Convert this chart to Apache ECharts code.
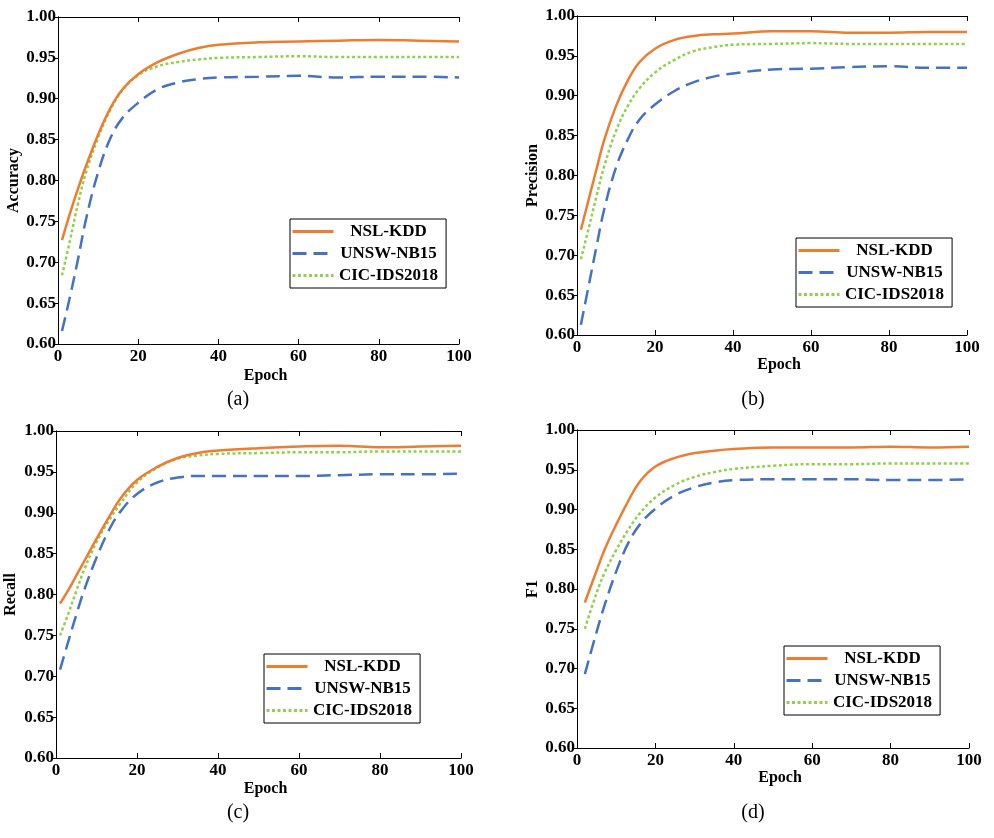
<!DOCTYPE html>
<html>
<head>
<meta charset="utf-8">
<script src="https://cdn.jsdelivr.net/npm/echarts@6/dist/echarts.min.js"></script>
<style>html,body{margin:0;padding:0;background:#fff;}#chart{width:994px;height:838px;}</style>
</head>
<body>
<div id="chart"></div>
<script>
// ---- data ----
const seriesNames = ['NSL-KDD', 'UNSW-NB15', 'CIC-IDS2018'];
const yTickValues = [0.60, 0.65, 0.70, 0.75, 0.80, 0.85, 0.90, 0.95, 1.00];
const xTickValues = [0, 20, 40, 60, 80, 100];

const epochsA = [1, 3, 5, 7, 10, 13, 16, 20, 25, 30, 35, 40, 50, 60, 70, 80, 90, 100];
const accNSL  = [0.727, 0.760, 0.790, 0.818, 0.856, 0.888, 0.911, 0.930, 0.945, 0.955, 0.962, 0.966, 0.969, 0.970, 0.971, 0.972, 0.971, 0.970];
const accUNSW = [0.616, 0.658, 0.704, 0.753, 0.810, 0.851, 0.876, 0.895, 0.912, 0.920, 0.924, 0.926, 0.927, 0.928, 0.926, 0.927, 0.927, 0.926];
const accCIC  = [0.684, 0.727, 0.772, 0.810, 0.852, 0.886, 0.910, 0.929, 0.940, 0.945, 0.948, 0.950, 0.951, 0.952, 0.951, 0.951, 0.951, 0.951];

const epochsB = [1, 3, 5, 7, 10, 13, 16, 20, 25, 30, 35, 40, 50, 60, 70, 80, 90, 100];
const precNSL  = [0.732, 0.770, 0.808, 0.845, 0.887, 0.919, 0.942, 0.959, 0.970, 0.975, 0.977, 0.978, 0.981, 0.981, 0.979, 0.979, 0.980, 0.980];
const precUNSW = [0.613, 0.662, 0.711, 0.758, 0.810, 0.845, 0.870, 0.889, 0.906, 0.917, 0.924, 0.928, 0.933, 0.934, 0.936, 0.937, 0.935, 0.935];
const precCIC  = [0.695, 0.734, 0.774, 0.812, 0.856, 0.887, 0.909, 0.929, 0.945, 0.956, 0.961, 0.964, 0.965, 0.966, 0.965, 0.965, 0.965, 0.965];

const epochsC = [1, 3, 5, 7, 10, 13, 16, 20, 25, 30, 35, 40, 50, 60, 70, 80, 90, 100];
const recNSL  = [0.789, 0.805, 0.823, 0.841, 0.868, 0.894, 0.918, 0.940, 0.956, 0.967, 0.973, 0.976, 0.979, 0.981, 0.982, 0.980, 0.981, 0.982];
const recUNSW = [0.708, 0.742, 0.775, 0.806, 0.845, 0.878, 0.902, 0.923, 0.937, 0.943, 0.945, 0.945, 0.945, 0.945, 0.946, 0.947, 0.947, 0.948];
const recCIC  = [0.750, 0.776, 0.804, 0.831, 0.864, 0.890, 0.912, 0.937, 0.955, 0.966, 0.970, 0.972, 0.973, 0.974, 0.974, 0.975, 0.975, 0.975];

const epochsD = [2, 5, 7, 10, 13, 16, 20, 25, 30, 35, 40, 50, 60, 70, 80, 90, 100];
const f1NSL  = [0.783, 0.823, 0.849, 0.881, 0.910, 0.935, 0.954, 0.965, 0.971, 0.974, 0.976, 0.978, 0.978, 0.978, 0.979, 0.978, 0.979];
const f1UNSW = [0.693, 0.746, 0.779, 0.822, 0.857, 0.881, 0.901, 0.918, 0.928, 0.934, 0.937, 0.938, 0.938, 0.938, 0.937, 0.937, 0.938];
const f1CIC  = [0.750, 0.795, 0.820, 0.849, 0.874, 0.895, 0.915, 0.931, 0.941, 0.947, 0.951, 0.955, 0.957, 0.957, 0.958, 0.958, 0.958];

const panelNames = ['Accuracy', 'Precision', 'Recall', 'F1'];
const captions = ['(a)', '(b)', '(c)', '(d)'];

// ---- layout / style ----
const FONT = "'Liberation Serif', 'Times New Roman', serif";
const colors = ['#ED7D31', '#4472C4', '#92D050'];
const lineTypes = ['solid', [14, 7], [3, 2.5]];

const panels = [
  { epochs: epochsA, vals: [accNSL, accUNSW, accCIC], grid: {left: 58, top: 17, width: 401, height: 327}, yGap: 36, xGap: 24, legend: {left: 290, top: 219}, cap: [238, 400] },
  { epochs: epochsB, vals: [precNSL, precUNSW, precCIC], grid: {left: 577, top: 16, width: 390, height: 319}, yGap: 35, xGap: 22, legend: {left: 796, top: 238}, cap: [753, 400] },
  { epochs: epochsC, vals: [recNSL, recUNSW, recCIC], grid: {left: 56, top: 431, width: 405, height: 327}, yGap: 37, xGap: 23, legend: {left: 264, top: 654}, cap: [238, 813] },
  { epochs: epochsD, vals: [f1NSL, f1UNSW, f1CIC], grid: {left: 577, top: 430, width: 392, height: 318}, yGap: 34, xGap: 22, legend: {left: 784, top: 646}, cap: [753, 813] }
];

const grids = [], xAxes = [], yAxes = [], series = [], legends = [], graphics = [];
const axisLine = { show: true, lineStyle: { color: '#000', width: 1 } };
const labelStyle = { fontFamily: FONT, fontWeight: 'bold', fontSize: 17, color: '#000' };
const nameStyle = { fontFamily: FONT, fontWeight: 'bold', fontSize: 16, color: '#000' };

panels.forEach((p, g) => {
  grids.push(Object.assign({ containLabel: false }, p.grid));
  xAxes.push({
    type: 'value', gridIndex: g, min: 0, max: 100, interval: 20, position: 'bottom',
    name: 'Epoch', nameLocation: 'middle', nameGap: p.xGap,
    nameTextStyle: Object.assign({}, nameStyle, { padding: [0, 0, 0, 14] }),
    axisLine: axisLine, axisTick: { show: true, inside: true, length: 5, lineStyle: { color: '#000' } },
    axisLabel: Object.assign({ margin: 4, formatter: v => xTickValues.includes(v) ? String(v) : '' }, labelStyle),
    splitLine: { show: false }
  });
  xAxes.push({
    type: 'value', gridIndex: g, min: 0, max: 100, interval: 20, position: 'top',
    axisLine: axisLine, axisTick: { show: true, inside: true, length: 5, lineStyle: { color: '#000' } },
    axisLabel: { show: false }, splitLine: { show: false }
  });
  yAxes.push({
    type: 'value', gridIndex: g, min: 0.6, max: 1.0, interval: 0.05, position: 'left',
    name: panelNames[g], nameLocation: 'middle', nameGap: p.yGap, nameRotate: 90,
    nameTextStyle: nameStyle,
    axisLine: axisLine, axisTick: { show: true, inside: false, length: 3, lineStyle: { color: '#000' } },
    axisLabel: Object.assign({ margin: 2, formatter: v => v.toFixed(2) }, labelStyle),
    splitLine: { show: false }
  });
  yAxes.push({
    type: 'value', gridIndex: g, min: 0.6, max: 1.0, interval: 0.05, position: 'right',
    axisLine: axisLine, axisTick: { show: true, inside: true, length: 5, lineStyle: { color: '#000' } },
    axisLabel: { show: false }, splitLine: { show: false }
  });

  seriesNames.forEach((name, s) => {
    series.push({
      name: name, type: 'line', xAxisIndex: 2 * g, yAxisIndex: 2 * g,
      data: p.epochs.map((e, i) => [e, p.vals[s][i]]),
      smooth: 0.4, showSymbol: false, symbol: 'none',
      lineStyle: { color: colors[s], width: 2.5, type: lineTypes[s] },
      itemStyle: { color: colors[s] },
      z: 3 - s
    });
  });

  legends.push({
    left: p.legend.left, top: p.legend.top, orient: 'vertical',
    data: seriesNames, itemWidth: 41, itemHeight: 16, itemGap: 5,
    borderColor: '#000', borderWidth: 1, borderRadius: 0, padding: [4, 8, 4, 1], backgroundColor: '#fff',
    itemStyle: { opacity: 0, borderWidth: 0 },
    lineStyle: { width: 3 },
    formatter: '{c|{name}}',
    textStyle: { fontFamily: FONT, fontWeight: 'bold', fontSize: 17, color: '#000',
      rich: { c: { width: 100, align: 'center', fontFamily: FONT, fontWeight: 'bold', fontSize: 17, color: '#000' } } }
  });

  graphics.push({
    type: 'text', x: p.cap[0], y: p.cap[1],
    style: { text: captions[g], fontFamily: FONT, fontSize: 20, fill: '#000', textAlign: 'center', textVerticalAlign: 'middle' }
  });
});

const chart = echarts.init(document.getElementById('chart'), null, { renderer: 'canvas' });
chart.setOption({
  backgroundColor: '#fff',
  animation: false,
  grid: grids, xAxis: xAxes, yAxis: yAxes, series: series, legend: legends, graphic: graphics
});
</script>
</body>
</html>
